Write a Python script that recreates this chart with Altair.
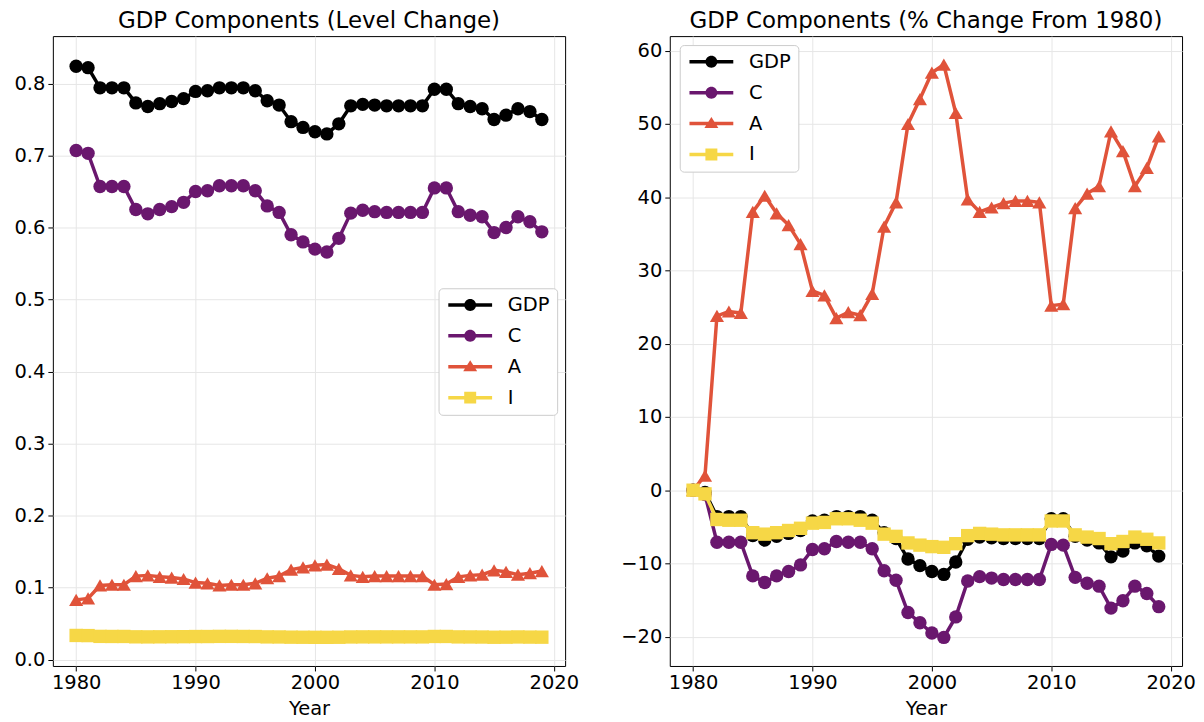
import altair as alt
import pandas as pd

years = list(range(1980, 2020))
series_names = ["GDP", "C", "A", "I"]

# Left panel: levels
gdp_level = [0.824, 0.822, 0.794, 0.794, 0.794, 0.773, 0.768, 0.772, 0.775, 0.779,
             0.789, 0.790, 0.794, 0.794, 0.794, 0.790, 0.776, 0.770, 0.747, 0.739,
             0.733, 0.730, 0.744, 0.769, 0.771, 0.770, 0.769, 0.769, 0.769, 0.769,
             0.792, 0.792, 0.772, 0.768, 0.765, 0.750, 0.756, 0.765, 0.761, 0.750]
c_level = [0.707, 0.703, 0.657, 0.657, 0.657, 0.625, 0.619, 0.625, 0.629, 0.635,
           0.650, 0.651, 0.658, 0.658, 0.658, 0.651, 0.630, 0.621, 0.590, 0.580,
           0.570, 0.566, 0.585, 0.620, 0.624, 0.622, 0.621, 0.621, 0.621, 0.621,
           0.655, 0.655, 0.622, 0.617, 0.615, 0.593, 0.600, 0.615, 0.608, 0.594]
a_level = [0.083, 0.085, 0.103, 0.104, 0.104, 0.116, 0.117, 0.115, 0.114, 0.112,
           0.107, 0.106, 0.103, 0.104, 0.104, 0.106, 0.113, 0.116, 0.125, 0.128,
           0.131, 0.132, 0.126, 0.117, 0.115, 0.116, 0.116, 0.116, 0.116, 0.116,
           0.104, 0.105, 0.115, 0.117, 0.118, 0.124, 0.122, 0.118, 0.120, 0.123]
i_level = [0.0336, 0.0334, 0.0323, 0.0322, 0.0322, 0.0317, 0.0316, 0.0317, 0.0318, 0.0319,
           0.0321, 0.0321, 0.0323, 0.0323, 0.0322, 0.0321, 0.0316, 0.0315, 0.0312, 0.0311,
           0.0310, 0.0310, 0.0311, 0.0315, 0.0316, 0.0316, 0.0316, 0.0316, 0.0316, 0.0316,
           0.0322, 0.0322, 0.0316, 0.0315, 0.0314, 0.0311, 0.0312, 0.0315, 0.0313, 0.0312]

# Right panel: % change from 1980
gdp_pct = [0, -0.3, -3.6, -3.6, -3.6, -6.2, -6.8, -6.3, -5.9, -5.5,
           -4.2, -4.1, -3.6, -3.6, -3.6, -4.1, -5.8, -6.6, -9.4, -10.3,
           -11.1, -11.5, -9.8, -6.7, -6.4, -6.5, -6.6, -6.6, -6.6, -6.6,
           -3.9, -3.9, -6.3, -6.8, -7.2, -9.1, -8.3, -7.2, -7.6, -9.0]
c_pct = [0, -0.6, -7.1, -7.1, -7.1, -11.7, -12.6, -11.7, -11.1, -10.2,
         -8.1, -8.0, -7.0, -7.1, -7.1, -8.0, -11.0, -12.3, -16.7, -18.1,
         -19.5, -20.1, -17.3, -12.4, -11.8, -12.0, -12.2, -12.2, -12.2, -12.2,
         -7.4, -7.5, -11.9, -12.7, -13.1, -16.1, -15.1, -13.1, -14.1, -15.9]
a_pct = [0, 2.0, 23.8, 24.4, 24.2, 38.0, 40.2, 37.8, 36.2, 33.6,
         27.2, 26.6, 23.5, 24.3, 23.9, 26.8, 36.0, 39.3, 50.0, 53.4,
         57.0, 58.1, 51.5, 39.7, 38.0, 38.6, 39.2, 39.5, 39.5, 39.3,
         25.2, 25.4, 38.5, 40.5, 41.5, 49.0, 46.3, 41.5, 44.0, 48.3]
i_pct = [0, -0.5, -4.0, -4.1, -4.1, -5.8, -6.0, -5.8, -5.5, -5.2,
         -4.5, -4.4, -3.9, -3.9, -4.1, -4.5, -6.0, -6.3, -7.2, -7.5,
         -7.7, -7.8, -7.3, -6.2, -5.9, -6.0, -6.1, -6.1, -6.1, -6.1,
         -4.2, -4.2, -6.1, -6.4, -6.6, -7.3, -7.0, -6.4, -6.7, -7.2]

x_ticks = [1980, 1990, 2000, 2010, 2020]
left_y_ticks = [0.0, 0.1, 0.2, 0.3, 0.4, 0.5, 0.6, 0.7, 0.8]
right_y_ticks = [-20, -10, 0, 10, 20, 30, 40, 50, 60]

# styles
colors = ["#000000", "#6a176e", "#e0533a", "#f6d746"]
shapes = ["circle", "circle", "triangle-up", "square"]
sizes = [180, 180, 200, 180]
FONT = "DejaVu Sans"
FS = 19.5


def long_df(series_list):
    rows = []
    for name, vals in zip(series_names, series_list):
        for yr, v in zip(years, vals):
            rows.append({"Year": yr, "Series": name, "Value": v})
    return pd.DataFrame(rows)


df_level = long_df([gdp_level, c_level, a_level, i_level])
df_pct = long_df([gdp_pct, c_pct, a_pct, i_pct])

# legend symbols: line + marker, in a [-1,1] box of 14px (1 unit = 7px)
LINE = "M-3.14,-0.25H3.14V0.25H-3.14Z"
CIRC = "M0.857,0A0.857,0.857 0 1,1 -0.857,0A0.857,0.857 0 1,1 0.857,0Z"
TRI = "M0,-0.93L1,0.64L-1,0.64Z"
SQR = "M-0.857,-0.857H0.857V0.857H-0.857Z"
legend_paths = [LINE + CIRC, LINE + CIRC, LINE + TRI, LINE + SQR]


def panel(df, title, ydomain, yticks, yfmt, yextent, lx, ly):
    x = alt.X("Year:Q",
              scale=alt.Scale(domain=[1978.05, 2020.95], nice=False, zero=False),
              axis=alt.Axis(values=x_ticks, format="d", title="Year"))
    y = alt.Y("Value:Q",
              scale=alt.Scale(domain=ydomain, nice=False, zero=False),
              axis=alt.Axis(values=yticks, format=yfmt, title=None,
                            minExtent=yextent, maxExtent=yextent))
    legend = alt.Legend(
        title=None, orient="none", legendX=lx, legendY=ly,
        fillColor="white", strokeColor="#cccccc", cornerRadius=4, padding=7,
        labelFont=FONT, labelFontSize=FS, labelColor="black",
        symbolSize=196, symbolStrokeWidth=0, symbolOpacity=1, rowPadding=10,
        symbolOffset=15, labelOffset=28,
    )
    layers = []
    for name, shape, size, col in zip(series_names, shapes, sizes, colors):
        base = alt.Chart(df).transform_filter(alt.datum.Series == name)
        layers.append(base.mark_line(strokeWidth=3.5, color=col).encode(x=x, y=y))
        layers.append(base.mark_point(filled=True, opacity=1, size=size, shape=shape,
                                      color=col).encode(x=x, y=y))
    # invisible layer that only carries the legend (line + marker symbols)
    layers.append(alt.Chart(df).mark_point(filled=True, opacity=0, size=1).encode(
        x=x, y=y,
        color=alt.Color("Series:N", scale=alt.Scale(domain=series_names, range=colors),
                        legend=legend),
        shape=alt.Shape("Series:N", scale=alt.Scale(domain=series_names, range=legend_paths),
                        legend=legend)))
    return alt.layer(*layers).properties(
        width=514, height=632,
        title=alt.Title(title, fontSize=23, font=FONT, fontWeight="normal",
                        color="black", offset=3, anchor="middle"))


left = panel(df_level, "GDP Components (Level Change)", [-0.0088, 0.8658],
             left_y_ticks, ".1f", 40, 387, 253)
right = panel(df_pct, "GDP Components (% Change From 1980)", [-24.0, 62.0],
              right_y_ticks, "d", 50, 10, 9)

chart = alt.hconcat(left, right, spacing=40).resolve_scale(
    color="independent", shape="independent", x="independent", y="independent"
).resolve_legend(color="independent", shape="independent").properties(
    padding={"left": 4, "top": 0, "right": 0, "bottom": 0},
    background="white",
).configure_view(
    stroke="black", strokeWidth=1
).configure_axis(
    labelFont=FONT, labelFontSize=FS, labelColor="black",
    titleFont=FONT, titleFontSize=FS, titleColor="black", titleFontWeight="normal",
    tickColor="black", tickSize=5, tickWidth=1, labelPadding=3, titlePadding=7,
    domain=False, grid=True, gridColor="#e6e6e6", gridWidth=1,
)

chart.save("out.html", embed_options={"renderer": "svg", "actions": False})
